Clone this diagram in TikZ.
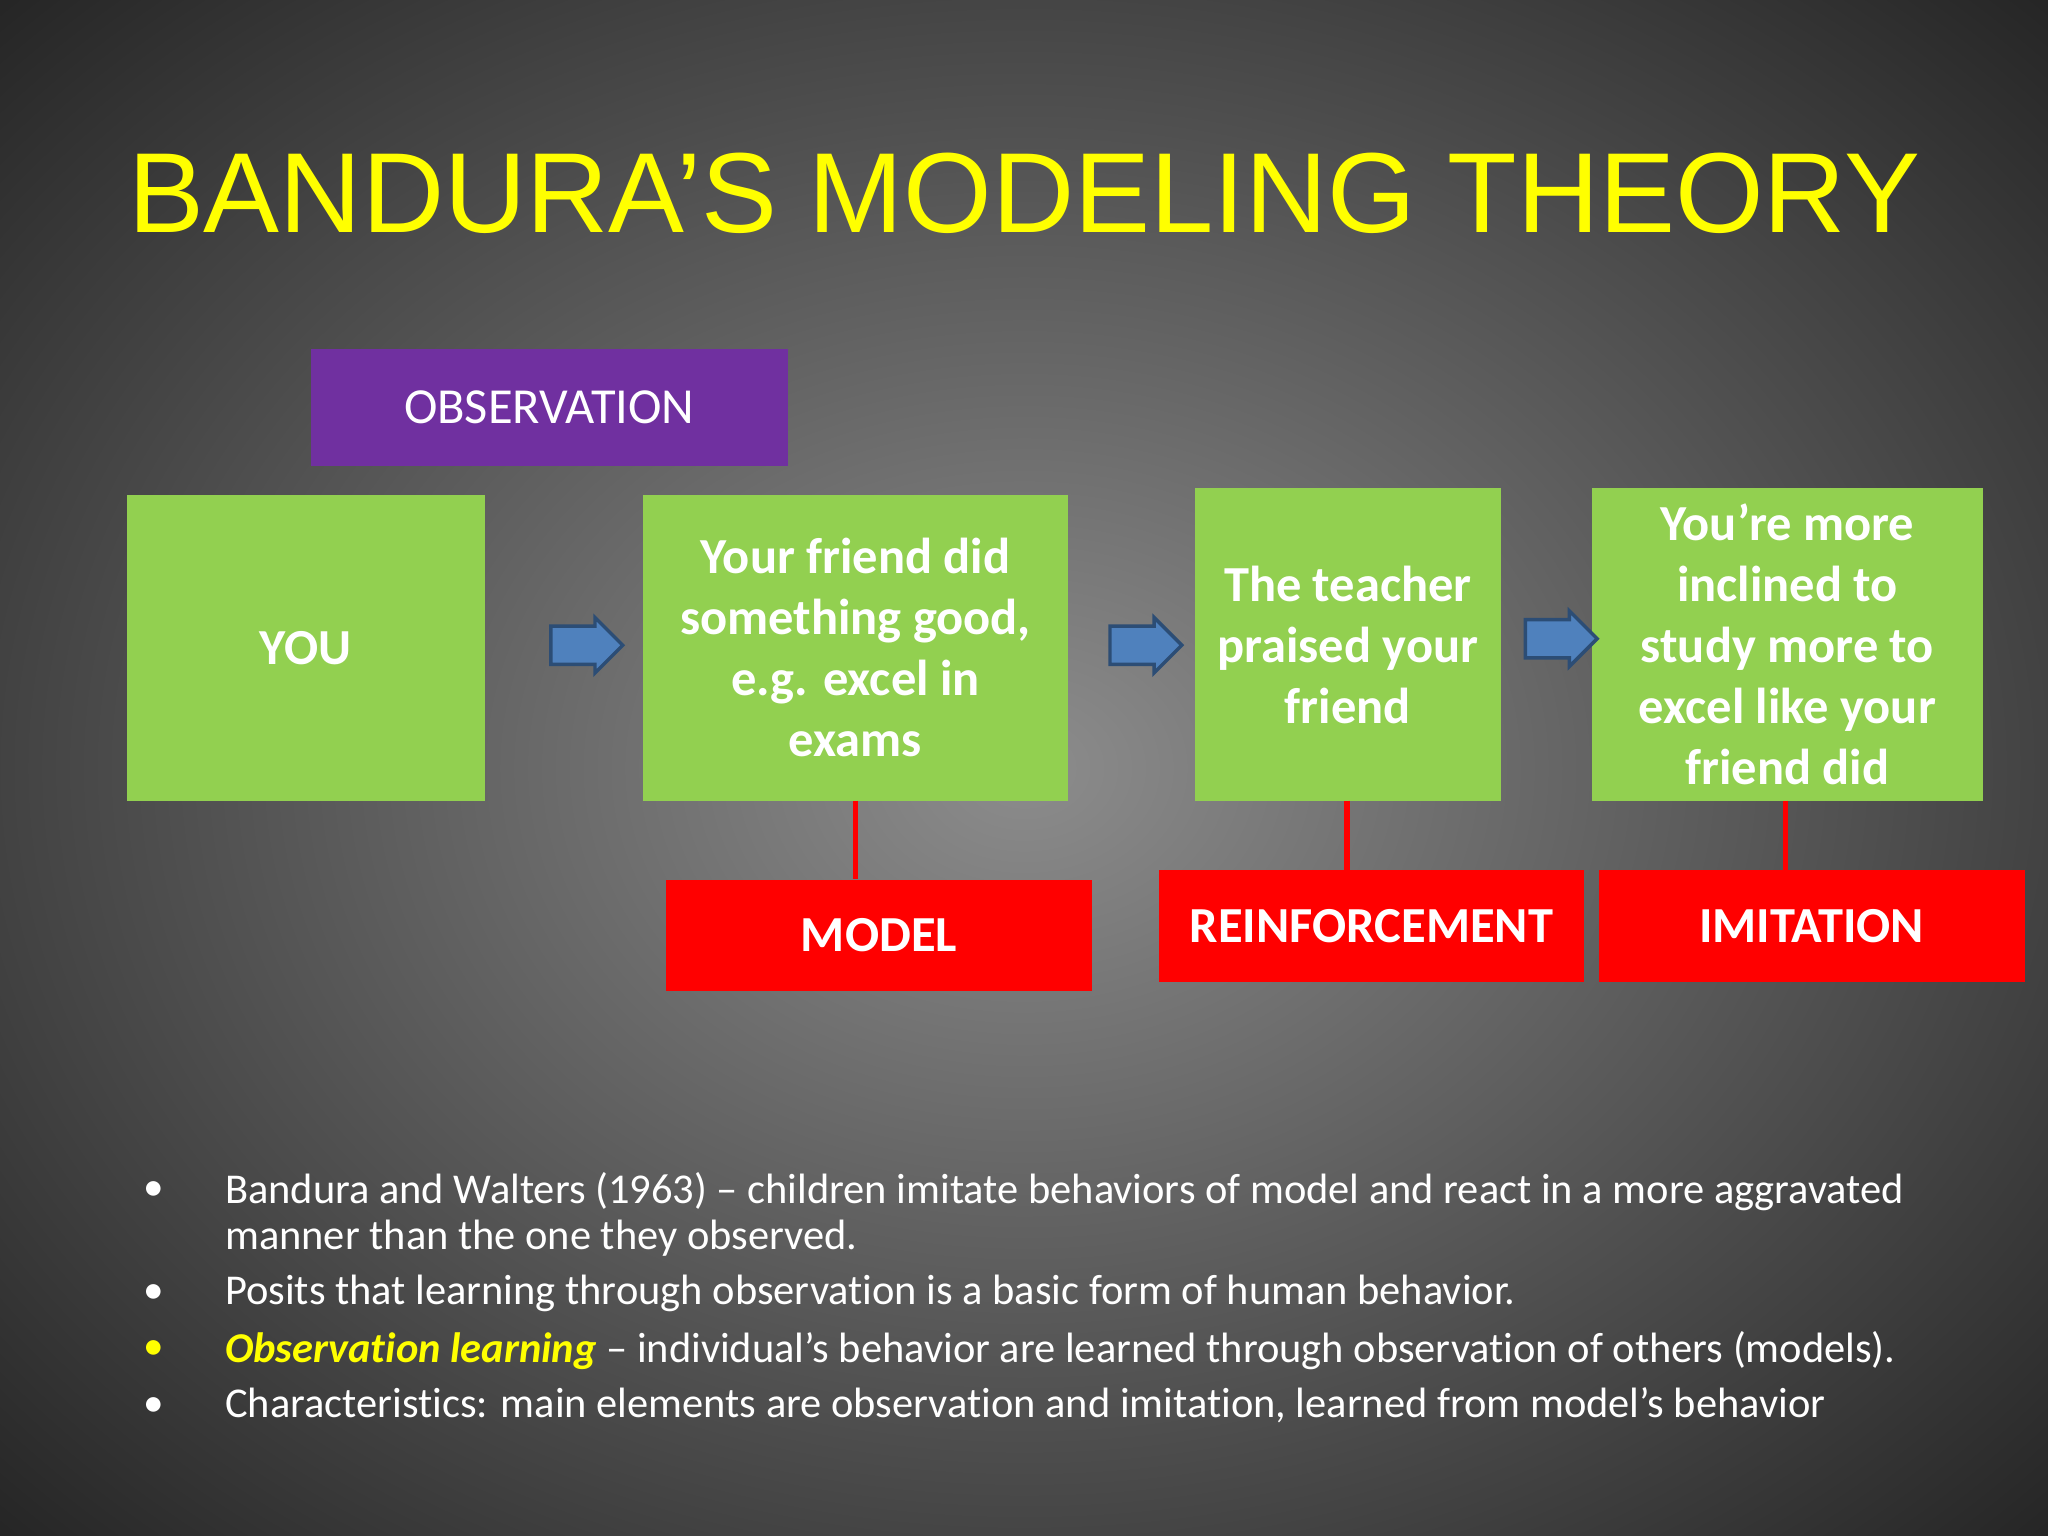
\documentclass[tikz,border=0pt]{standalone}
\usepackage{fontspec}
\setmainfont{Carlito}[RawFeature=-liga]
\newfontfamily\titlefont{Liberation Sans}
\usetikzlibrary{shapes.arrows}
\definecolor{grn}{HTML}{92D050}
\definecolor{purp}{HTML}{7030A0}
\definecolor{ablue}{HTML}{4F81BD}
\definecolor{ablued}{HTML}{2C4D75}
\definecolor{ttl}{HTML}{FFFF00}
\begin{document}
\begin{tikzpicture}[x=0.02cm,y=-0.02cm,
  gbox/.style={fill=grn,text=white,font=\fontsize{22}{26.6}\selectfont\bfseries,align=center,inner sep=0},
  rbox/.style={fill=red,text=white,font=\fontsize{22}{26}\selectfont\bfseries,align=center,inner sep=0},
  barrow/.style={single arrow,fill=ablue,draw=ablued,line width=1.5pt,minimum height=1.1cm,minimum width=0.85cm,single arrow head extend=0.08cm,inner sep=0.15cm},
  rline/.style={draw=red,line width=2.5pt},
  bul/.style={anchor=north west,text=white,font=\fontsize{18.5}{20}\selectfont,align=left,inner sep=0},
  dot/.style={text=white,font=\fontsize{18}{19}\selectfont}]
\useasboundingbox (0,0) rectangle (1568,1176);
\shade[inner color=gray!90!white,outer color=black!85] (-300,-250) rectangle (1868,1426);
\node[text=ttl,font=\titlefont\fontsize{49.6}{56}\selectfont] (title) at (784,148) {BANDURA’S MODELING THEORY};
\node[fill=purp,text=white,font=\fontsize{22}{26}\selectfont,minimum width=365*0.02cm,minimum height=90*0.02cm] (obs) at (420.5,312) {OBSERVATION};
\node[gbox,minimum width=274*0.02cm,minimum height=234*0.02cm] (you) at (234,496) {YOU};
\node[gbox,minimum width=326*0.02cm,minimum height=234*0.02cm] (friend) at (655,496) {Your friend did\\something good,\\e.g. excel in\\exams};
\node[gbox,minimum width=234*0.02cm,minimum height=239*0.02cm] (teacher) at (1032,493.5) {The teacher\\praised your\\friend};
\node[gbox,minimum width=299*0.02cm,minimum height=239*0.02cm] (more) at (1368.5,493.5) {You’re more\\inclined to\\study more to\\excel like your\\friend did};
\node[rbox,minimum width=326*0.02cm,minimum height=85*0.02cm] (model) at (673,716) {MODEL};
\node[rbox,minimum width=326*0.02cm,minimum height=86*0.02cm] (reinf) at (1050,709) {REINFORCEMENT};
\node[rbox,minimum width=326*0.02cm,minimum height=86*0.02cm] (imit) at (1387,709) {IMITATION};
\draw[rline] (655,613) -- (655,673);
\draw[rline] (1031,613) -- (1031,666);
\draw[rline] (1367,613) -- (1367,666);
\node[barrow] (a1) at (442,494) {};
\node[barrow] (a2) at (870,494) {};
\node[barrow] (a3) at (1188,489) {};
\node[bul] (b1) at (172,897) {Bandura and Walters (1963) – children imitate behaviors of model and react in a more aggravated\\manner than the one they observed.};
\node[bul] (b2) at (172,976) {Posits that learning through observation is a basic form of human behavior.};
\node[bul] (b3) at (172,1019) {\textcolor{ttl}{\bfseries\itshape Observation learning} – individual’s behavior are learned through observation of others (models).};
\node[bul] (b4) at (172,1062) {Characteristics: main elements are observation and imitation, learned from model’s behavior};
\node[dot] at (118,912) {•};
\node[dot] at (118,991) {•};
\node[dot,text=ttl] at (118,1034) {•};
\node[dot] at (118,1077) {•};
\end{tikzpicture}
\end{document}
